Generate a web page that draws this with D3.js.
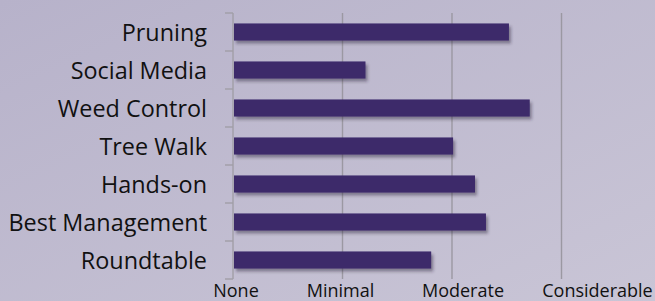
<!DOCTYPE html>
<html>
<head>
<meta charset="utf-8">
<script src="https://cdn.jsdelivr.net/npm/d3@7"></script>
<style>
  body { margin: 0; }
  svg { display: block; font-family: "Open Sans", sans-serif; }
</style>
</head>
<body>
<svg width="655" height="301"></svg>
<script>
// data (0 = None ... 3 = Considerable)
var categories = ["Pruning", "Social Media", "Weed Control", "Tree Walk", "Hands-on", "Best Management", "Roundtable"];
var values = [2.52, 1.21, 2.71, 2.01, 2.21, 2.31, 1.81];
var levels = ["None", "Minimal", "Moderate", "Considerable"];

var svg = d3.select("svg"),
    width = +svg.attr("width"),
    height = +svg.attr("height");

var margin = {top: 13, right: 94, bottom: 22, left: 233};

// background gradient
var defs = svg.append("defs");
var grad = defs.append("linearGradient")
    .attr("id", "bg")
    .attr("x1", "0%").attr("y1", "0%")
    .attr("x2", "100%").attr("y2", "100%");
grad.append("stop").attr("offset", "0%").attr("stop-color", "#b7b2ca");
grad.append("stop").attr("offset", "100%").attr("stop-color", "#c9c5d6");

var shadow = defs.append("filter")
    .attr("id", "shadow")
    .attr("x", "-5%").attr("y", "-30%")
    .attr("width", "115%").attr("height", "190%");
shadow.append("feDropShadow")
    .attr("dx", 2).attr("dy", 3)
    .attr("stdDeviation", 1.6)
    .attr("flood-color", "#2a2238")
    .attr("flood-opacity", 0.45);

svg.append("rect")
    .attr("width", width)
    .attr("height", height)
    .attr("fill", "url(#bg)");

var x = d3.scaleLinear()
    .domain([0, 3])
    .range([margin.left, margin.left + 328.5]);

var y = d3.scaleBand()
    .domain(categories)
    .range([margin.top, height - margin.bottom])
    .paddingInner(0.55)
    .paddingOuter(0.275);

var plotTop = margin.top, plotBottom = height - margin.bottom;

// gridlines
svg.append("g")
    .selectAll("line")
    .data([1, 2, 3])
    .enter().append("line")
        .attr("x1", function (d) { return x(d); })
        .attr("x2", function (d) { return x(d); })
        .attr("y1", plotTop)
        .attr("y2", plotBottom)
        .attr("stroke", "#9b98a2")
        .attr("stroke-width", 1.4);

// bars
svg.append("g")
    .selectAll("rect")
    .data(categories)
    .enter().append("rect")
        .attr("x", x(0) + 1)
        .attr("y", function (d) { return y(d); })
        .attr("width", function (d, i) { return x(values[i]) - x(0) - 1; })
        .attr("height", y.bandwidth())
        .attr("fill", "#3d2a6b")
        .attr("filter", "url(#shadow)");

// category axis: line plus ticks at band edges
var step = y.step();
var edges = d3.range(categories.length + 1).map(function (i) { return plotTop + i * step; });
var axis = svg.append("g").attr("stroke", "#a19ea7").attr("stroke-width", 1.4);
axis.append("line")
    .attr("x1", x(0)).attr("x2", x(0))
    .attr("y1", plotTop).attr("y2", plotBottom);
axis.selectAll("line.tick")
    .data(edges)
    .enter().append("line")
        .attr("class", "tick")
        .attr("x1", x(0) - 8).attr("x2", x(0))
        .attr("y1", function (d) { return d; })
        .attr("y2", function (d) { return d; });

// category labels
svg.append("g")
    .selectAll("text")
    .data(categories)
    .enter().append("text")
        .attr("x", x(0) - 26)
        .attr("y", function (d) { return y(d) + y.bandwidth() / 2; })
        .attr("dy", "0.4em")
        .attr("text-anchor", "end")
        .attr("font-size", 23.4)
        .attr("fill", "#111")
        .text(function (d) { return d; });

// level labels along the bottom
var nudge = [3, -2, 11, 36];
svg.append("g")
    .selectAll("text")
    .data(levels)
    .enter().append("text")
        .attr("x", function (d, i) { return x(i) + nudge[i]; })
        .attr("y", height - 4)
        .attr("text-anchor", "middle")
        .attr("font-size", 18)
        .attr("fill", "#111")
        .text(function (d) { return d; });
</script>
</body>
</html>
